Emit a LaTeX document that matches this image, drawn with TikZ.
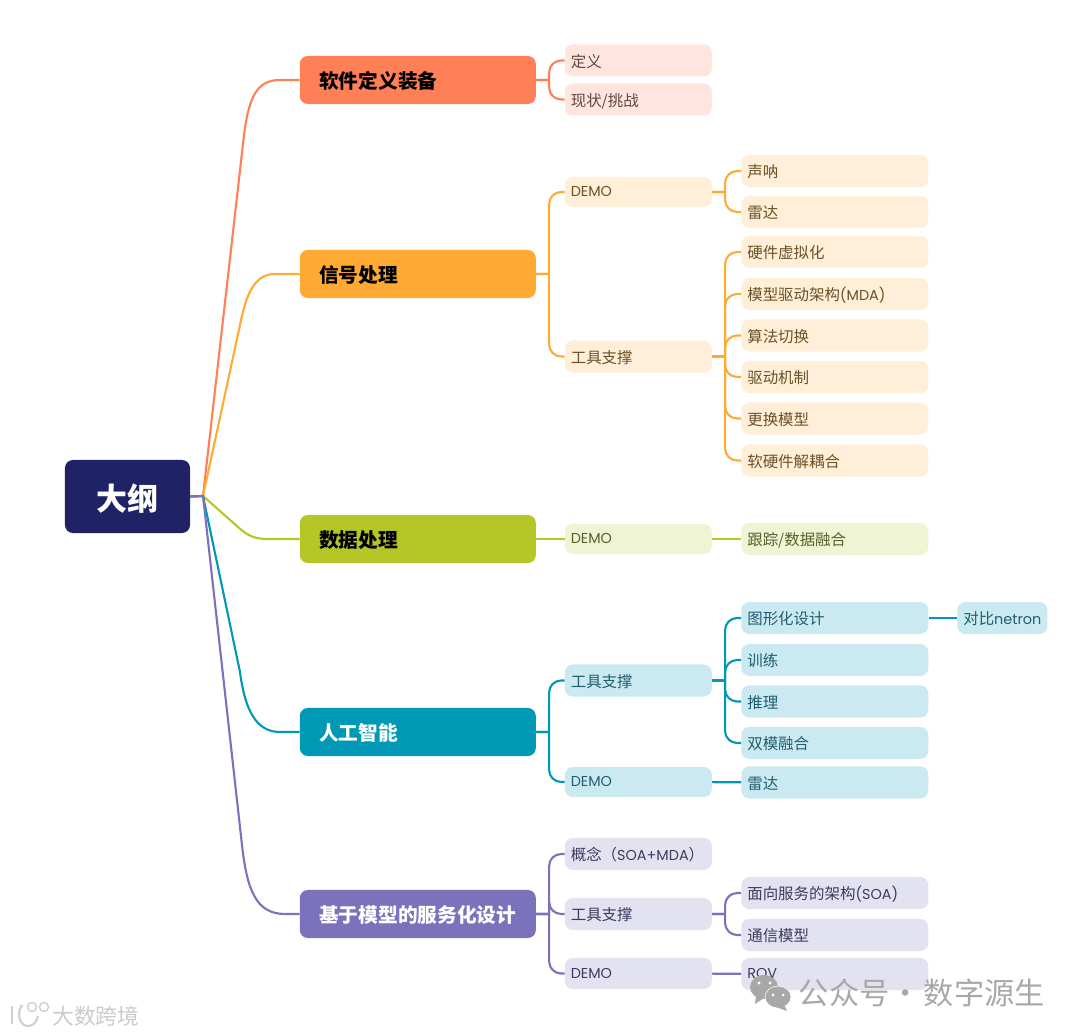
\documentclass[tikz,border=0pt]{standalone}
\usepackage{fontspec}
\setmainfont{Noto Sans CJK SC}
\newfontfamily\latfont{Poppins}[Scale=0.93]
\newcommand{\lat}[1]{{\latfont #1}}

\definecolor{rootc}{HTML}{1F2366}
\definecolor{softc}{HTML}{FF7F57}
\definecolor{softl}{HTML}{FFE5DD}
\definecolor{softt}{HTML}{5E4A3F}
\definecolor{sigc}{HTML}{FFAA33}
\definecolor{sigl}{HTML}{FFEED8}
\definecolor{sigt}{HTML}{6B5126}
\definecolor{datac}{HTML}{B5C727}
\definecolor{datal}{HTML}{EFF4D5}
\definecolor{datat}{HTML}{56602A}
\definecolor{aic}{HTML}{0099B5}
\definecolor{ail}{HTML}{CBE9F1}
\definecolor{ait}{HTML}{1F5F70}
\definecolor{modc}{HTML}{7A72BA}
\definecolor{modl}{HTML}{E3E2F1}
\definecolor{modt}{HTML}{3E3B5E}
\definecolor{markc}{HTML}{A8A8A8}

\tikzset{
  topic/.style={anchor=west,rounded corners=0.2cm,minimum height=1.2cm,inner xsep=0.4875cm,inner ysep=0pt,
    text width=4.925cm,align=left,text height=12.5pt,text depth=0.9pt,font=\fontsize{14}{16}\selectfont\bfseries},
  leaf/.style={anchor=west,rounded corners=0.2cm,inner xsep=0.15cm,inner ysep=0pt,align=left,
    text height=10.6pt,text depth=0.75pt,font=\fontsize{11}{13}\selectfont},
  mid/.style={leaf,minimum height=0.8cm,text width=3.375cm},
  tip/.style={leaf,minimum height=0.8cm,text width=4.375cm},
  demo/.style={text height=7.5pt},
  edge/.style={line width=1.5pt},
  branch/.style={edge,rounded corners=0.3cm,
    to path={(\tikztostart.east) -- ++(13,0) coordinate (bus) (bus) |- (\tikztotarget.west)}},
  softn/.style={fill=softl,text=softt},
  sign/.style={fill=sigl,text=sigt},
  datan/.style={fill=datal,text=datat},
  ain/.style={fill=ail,text=ait},
  modn/.style={fill=modl,text=modt},
}

\begin{document}
\begin{tikzpicture}[x=0.025cm,y=-0.025cm]
    \useasboundingbox (0,0) rectangle (1080,1036);

    % root and main topics
    \node[rounded corners=0.2cm,fill=rootc,text=white,minimum width=3.125cm,minimum height=1.825cm,
      text height=20.5pt,text depth=0.9pt,font=\fontsize{22}{24}\selectfont\bfseries] (root) at (127.5,496.5) {大纲};
    \coordinate (hub) at (203,496);
    \node[topic,fill=softc,text=black] (soft) at (299.5,80) {软件定义装备};
    \node[topic,fill=sigc,text=black] (signal) at (299.5,274) {信号处理};
    \node[topic,fill=datac,text=black] (data) at (299.5,539) {数据处理};
    \node[topic,fill=aic,text=white] (ai) at (299.5,732) {人工智能};
    \node[topic,fill=modc,text=white] (model) at (299.5,914) {基于模型的服务化设计};

    % software
    \node[mid,softn] (softa) at (564.5,60.5) {定义};
    \node[mid,softn] (softb) at (564.5,99.5) {现状/挑战};

    % signal
    \node[mid,sign,demo,minimum height=0.75cm] (sigdemo) at (564.5,192) {\lat{DEMO}};
    \node[mid,sign] (sigtool) at (564.5,356.5) {工具支撑};
    \node[tip,sign] (siga) at (741,171) {声呐};
    \node[tip,sign] (sigb) at (741,212) {雷达};
    \node[tip,sign] (sigc) at (741,252) {硬件虚拟化};
    \node[tip,sign] (sigd) at (741,294) {模型驱动架构\lat{(MDA)}};
    \node[tip,sign] (sige) at (741,335.5) {算法切换};
    \node[tip,sign] (sigf) at (741,377) {驱动机制};
    \node[tip,sign] (sigg) at (741,418.5) {更换模型};
    \node[tip,sign] (sigh) at (741,460.5) {软硬件解耦合};

    % data
    \node[mid,datan,demo,minimum height=0.75cm] (datademo) at (564.5,539) {\lat{DEMO}};
    \node[tip,datan] (dataa) at (741,539) {跟踪/数据融合};

    % ai
    \node[mid,ain] (aitool) at (564.5,680.5) {工具支撑};
    \node[mid,ain,demo,minimum height=0.75cm] (aidemo) at (564.5,782) {\lat{DEMO}};
    \node[tip,ain] (aia) at (741,618) {图形化设计};
    \node[tip,ain] (aib) at (741,660) {训练};
    \node[tip,ain] (aic) at (741,701.5) {推理};
    \node[tip,ain] (aid) at (741,743) {双模融合};
    \node[tip,ain] (aie) at (741,782.5) {雷达};
    \node[leaf,ain,minimum width=2.2cm,minimum height=0.8cm] (aix) at (957,618) {对比\lat{netron}};

    % model
    \node[mid,modn] (modcon) at (564.5,854) {概念（\lat{SOA+MDA}）};
    \node[mid,modn] (modtool) at (564.5,914) {工具支撑};
    \node[mid,modn,demo,minimum height=0.775cm] (moddemo) at (564.5,973.5) {\lat{DEMO}};
    \node[tip,modn] (moda) at (741,893) {面向服务的架构\lat{(SOA)}};
    \node[tip,modn] (modb) at (741,935) {通信模型};
    \node[tip,modn,demo] (modd) at (741,974) {\lat{ROV}};

    % trunk lines
    \draw[edge,softc] (root.east) -- (hub) -- (244,135) .. controls (249,95) and (258,80) .. (280,80) -- (soft.west);
    \draw[edge,sigc] (root.east) -- (hub) -- (240,325) .. controls (246,295) and (254,274) .. (275,274) -- (signal.west);
    \draw[edge,datac] (root.east) -- (hub) -- (238,527) .. controls (246,534) and (252,539) .. (268,539) -- (data.west);
    \draw[edge,aic] (root.east) -- (hub) -- (240,672) .. controls (245,710) and (256,732) .. (280,732) -- (ai.west);
    \draw[edge,modc] (root.east) -- (hub) -- (242,845) .. controls (247,890) and (256,914) .. (285,914) -- (model.west);

    % branch lines
    \draw[branch,softc] (soft) to (softa);
    \draw[branch,softc] (soft) to (softb);
    \draw[branch,sigc] (signal) to (sigdemo);
    \draw[branch,sigc] (signal) to (sigtool);
    \draw[branch,sigc] (sigdemo) to (siga);
    \draw[branch,sigc] (sigdemo) to (sigb);
    \draw[branch,sigc] (sigtool) to (sigc);
    \draw[branch,sigc] (sigtool) to (sigd);
    \draw[branch,sigc] (sigtool) to (sige);
    \draw[branch,sigc] (sigtool) to (sigf);
    \draw[branch,sigc] (sigtool) to (sigg);
    \draw[branch,sigc] (sigtool) to (sigh);
    \draw[edge,datac] (data) -- (datademo);
    \draw[edge,datac] (datademo) -- (dataa);
    \draw[branch,aic] (ai) to (aitool);
    \draw[branch,aic] (ai) to (aidemo);
    \draw[branch,aic] (aitool) to (aia);
    \draw[branch,aic] (aitool) to (aib);
    \draw[branch,aic] (aitool) to (aic);
    \draw[branch,aic] (aitool) to (aid);
    \draw[edge,aic] (aidemo) -- (aie);
    \draw[edge,aic] (aia) -- (aix);
    \draw[branch,modc] (model) to (modcon);
    \draw[branch,modc] (model) to (modtool);
    \draw[branch,modc] (model) to (moddemo);
    \draw[branch,modc] (modtool) to (moda);
    \draw[branch,modc] (modtool) to (modb);
    \draw[edge,modc] (moddemo) -- (modd);

    % marks over the picture
    \fill[markc] (764,987) ellipse (14 and 12);
    \fill[markc] (756,996) -- (755,1004) -- (764,998) -- cycle;
    \fill[markc,draw=white] (778,997) ellipse (13 and 11);
    \fill[markc] (784,1005) -- (787,1011) -- (776,1007) -- cycle;
    \fill[white] (759,983) circle (1.6) (770,983) circle (1.6) (773,995) circle (1.5) (783,995) circle (1.5);
    \node[text=markc,anchor=west,inner sep=0pt,font=\fontsize{21.5}{24}\selectfont] (markb) at (798.5,993)
      {公众号\hspace{0.8pt}·\hspace{2.2pt}数字源生};
    \draw[markc!55,line width=1.5pt] (12,1006) -- (12,1024);
    \draw[markc!55,line width=1.5pt] (22,1005) .. controls (16,1014) and (20,1026) .. (28,1026) .. controls (33,1026) and (37,1022) .. (38,1016);
    \draw[markc!55,line width=1pt] (32,1007) circle (4.5);
    \draw[markc!55,line width=1pt] (44,1007) circle (4.5);
    \node[text=markc!60,anchor=west,inner sep=0pt,font=\fontsize{15.5}{18}\selectfont] (marka) at (52,1016) {大数跨境};
\end{tikzpicture}
\end{document}
